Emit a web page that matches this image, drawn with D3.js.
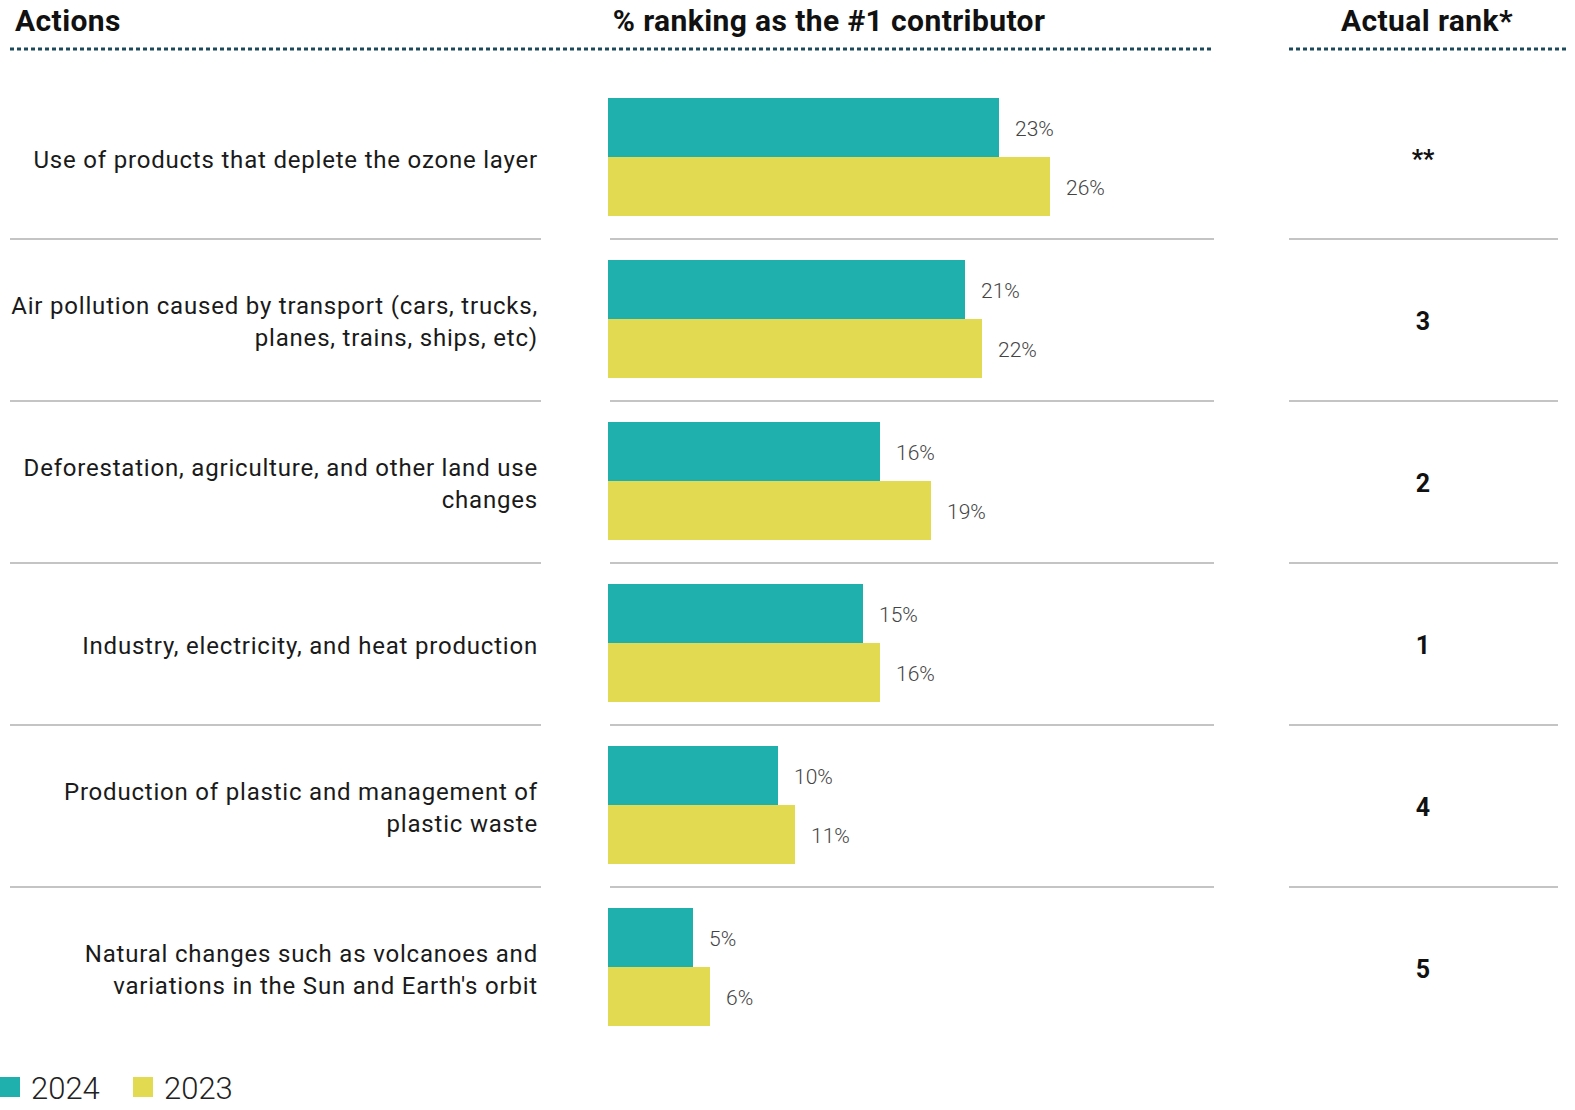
<!DOCTYPE html>
<html><head><meta charset="utf-8">
<script src="https://cdn.jsdelivr.net/npm/d3@7"></script>
<style>
html,body{margin:0;padding:0;background:#fff;}
svg{display:block;font-family:Roboto,"Noto Sans",sans-serif;}
</style></head>
<body>
<svg id="chart" width="1575" height="1110"></svg>
<script>
const categories = [
  "Use of products that deplete the ozone layer",
  "Air pollution caused by transport (cars, trucks,|planes, trains, ships, etc)",
  "Deforestation, agriculture, and other land use|changes",
  "Industry, electricity, and heat production",
  "Production of plastic and management of|plastic waste",
  "Natural changes such as volcanoes and|variations in the Sun and Earth's orbit"
];
const values2024 = [23, 21, 16, 15, 10, 5];
const values2023 = [26, 22, 19, 16, 11, 6];
const actualRank = ["**", "3", "2", "1", "4", "5"];
const seriesNames = ["2024", "2023"];
const headers = ["Actions", "% ranking as the #1 contributor", "Actual rank*"];

const colors = {"2024": "#1fb0ae", "2023": "#e2db52"};
const svg = d3.select("#chart");

const rowTop = 77, rowH = 162;
const y = d3.scaleBand().domain(d3.range(categories.length)).range([rowTop, rowTop + rowH * categories.length]).padding(0);
const ySub = d3.scaleBand().domain(seriesNames).range([21, 139]).padding(0);
const x = d3.scaleLinear().domain([0, 26]).range([608, 1050]);

// headers
const hdr = [{t: headers[0], x: 15, a: "start"}, {t: headers[1], x: 829, a: "middle"}, {t: headers[2], x: 1427, a: "middle"}];
svg.selectAll("text.hdr").data(hdr).join("text").attr("class", "hdr")
  .attr("x", d => d.x).attr("y", 31).attr("text-anchor", d => d.a)
  .attr("font-size", 30).attr("font-weight", 700).attr("letter-spacing", 0.4).attr("fill", "#111").text(d => d.t);

// dotted lines
const dotted = [[10, 1214], [1289, 1568]];
svg.selectAll("line.dot").data(dotted).join("line")
  .attr("x1", d => d[0]).attr("x2", d => d[1]).attr("y1", 49).attr("y2", 49)
  .attr("stroke", "#1d4a5a").attr("stroke-width", 3).attr("stroke-dasharray", "4,3");

// separators
const sepSegs = [[10, 541], [610, 1214], [1289, 1558]];
const seps = [];
d3.range(categories.length - 1).forEach(i => sepSegs.forEach(s => seps.push({i, s})));
svg.selectAll("line.sep").data(seps).join("line")
  .attr("x1", d => d.s[0]).attr("x2", d => d.s[1])
  .attr("y1", d => y(d.i) + rowH).attr("y2", d => y(d.i) + rowH)
  .attr("stroke", "#c4c4c4").attr("stroke-width", 2);

const rows = svg.selectAll("g.row").data(categories.map((c, i) => ({c, i}))).join("g")
  .attr("transform", d => `translate(0,${y(d.i)})`);

// labels
rows.each(function(d) {
  const lines = d.c.split("|");
  const g = d3.select(this);
  const lh = 32;
  const start = 83 - (lines.length - 1) * lh / 2;
  lines.forEach((ln, k) => {
    g.append("text").attr("x", 538).attr("y", start + k * lh)
      .attr("text-anchor", "end").attr("dominant-baseline", "central")
      .attr("font-size", 24).attr("letter-spacing", 0.8).attr("fill", "#1a1a1a").text(ln);
  });
});

// bars
rows.each(function(d) {
  const g = d3.select(this);
  const vals = [{s: "2024", v: values2024[d.i]}, {s: "2023", v: values2023[d.i]}];
  g.selectAll("rect").data(vals).join("rect")
    .attr("x", x(0)).attr("y", v => ySub(v.s)).attr("width", v => x(v.v) - x(0)).attr("height", ySub.bandwidth())
    .attr("fill", v => colors[v.s]);
  g.selectAll("text.val").data(vals).join("text").attr("class", "val")
    .attr("x", v => x(v.v) + 16).attr("y", v => ySub(v.s) + ySub.bandwidth() / 2 + 1)
    .attr("dominant-baseline", "central").attr("font-size", 21).attr("font-weight", 300)
    .attr("fill", "#444").text(v => v.v + "%");
  g.append("text").attr("x", 1423).attr("y", 82).attr("text-anchor", "middle")
    .attr("dominant-baseline", "central").attr("font-size", 25).attr("font-weight", 700)
    .attr("fill", "#111").text(actualRank[d.i]);
});

// legend
const leg = svg.selectAll("g.leg").data(seriesNames).join("g")
  .attr("transform", (d, i) => `translate(${i * 133},0)`);
leg.append("rect").attr("x", 0).attr("y", 1077).attr("width", 20).attr("height", 20).attr("fill", d => colors[d]);
leg.append("text").attr("x", 31).attr("y", 1088).attr("dominant-baseline", "central")
  .attr("font-size", 31).attr("font-weight", 300).attr("fill", "#222").text(d => d);
</script>
</body></html>
